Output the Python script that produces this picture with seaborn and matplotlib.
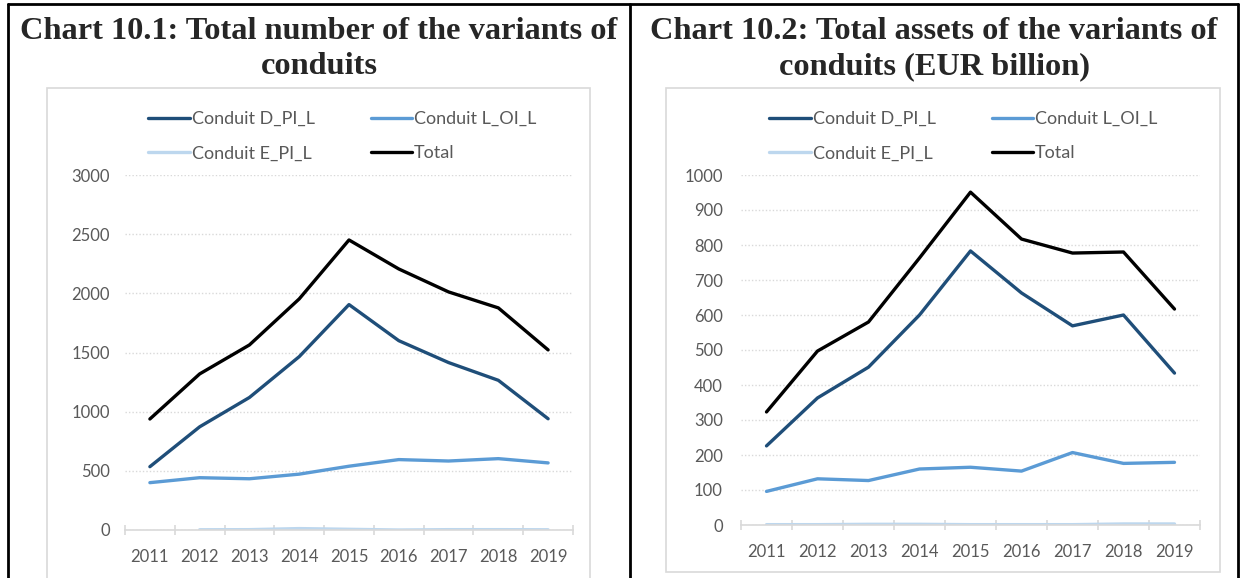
import numpy as np
import pandas as pd
import matplotlib
matplotlib.use("Agg")
import matplotlib.pyplot as plt
from matplotlib.patches import Rectangle
from matplotlib.lines import Line2D
import seaborn as sns

# ---------------------------------------------------
# Data
# ---------------------------------------------------
years = ["2011", "2012", "2013", "2014", "2015", "2016", "2017", "2018", "2019"]
series_names = ["Conduit D_PI_L", "Conduit L_OI_L", "Conduit E_PI_L", "Total"]

# Chart 10.1: number of conduits
count_d_pi_l = [535, 872, 1120, 1465, 1905, 1600, 1415, 1265, 940]
count_l_oi_l = [400, 442, 433, 472, 539, 595, 583, 603, 567]
count_e_pi_l = [np.nan, 2, 3, 12, 6, 0, 3, 3, 2]
count_total = [938, 1319, 1564, 1953, 2451, 2206, 2012, 1877, 1522]

# Chart 10.2: total assets (EUR billion)
assets_d_pi_l = [226, 363, 451, 600, 783, 663, 569, 600, 434]
assets_l_oi_l = [96, 132, 127, 160, 165, 154, 207, 176, 179]
assets_e_pi_l = [1, 1, 2, 2, 1, 1, 1, 3, 3]
assets_total = [323, 497, 580, 763, 951, 817, 777, 780, 617]

titles = ["Chart 10.1: Total number of the variants of\nconduits",
          "Chart 10.2: Total assets of the variants of\nconduits (EUR billion)"]

palette = {"Conduit D_PI_L": "#1F4E79", "Conduit L_OI_L": "#5B9BD5",
           "Conduit E_PI_L": "#BDD7EE", "Total": "#000000"}


def to_long(d, l, e, t):
    frames = []
    for name, vals in zip(series_names, [d, l, e, t]):
        frames.append(pd.DataFrame({"year": years, "value": vals, "series": name}))
    return pd.concat(frames, ignore_index=True)


df_count = to_long(count_d_pi_l, count_l_oi_l, count_e_pi_l, count_total)
df_assets = to_long(assets_d_pi_l, assets_l_oi_l, assets_e_pi_l, assets_total)

# ---------------------------------------------------
# Figure
# ---------------------------------------------------
sns.set_theme(style="white")
plt.rcParams["font.family"] = ["Lato", "DejaVu Sans"]

W, H = 1244, 578
fig = plt.figure(figsize=(W / 100, H / 100), dpi=100)


def fx(px):
    return px / W


def fy(py):
    return 1 - py / H


# table borders
for xs, ys in [([8, 1238], [4, 4]), ([8, 8], [4, 578]),
               ([630, 630], [4, 578]), ([1238, 1238], [4, 578])]:
    fig.add_artist(Line2D([fx(x) for x in xs], [fy(y) for y in ys],
                          color="black", lw=2, transform=fig.transFigure))

# light chart frames
for x0, x1, y0, y1 in [(47, 590, 88, 580), (666, 1220, 88, 572)]:
    fig.add_artist(Rectangle((fx(x0), fy(y1)), fx(x1 - x0), (y1 - y0) / H,
                             fill=False, edgecolor="#D9D9D9", lw=1.2,
                             transform=fig.transFigure))

# titles
for cx, title in zip([319, 934], titles):
    fig.text(fx(cx), fy(49), title, ha="center", va="center",
             fontsize=23.3, fontweight="bold", family="Liberation Serif",
             linespacing=1.3)

panels = [
    dict(df=df_count, rect=[125, 573, 175, 530], ymax=3000, step=500,
         leg=(132, 95), pad=11),
    dict(df=df_assets, rect=[741, 1200, 175, 525], ymax=1000, step=100,
         leg=(753, 95), pad=13),
]

for p in panels:
    x0, x1, ytop, ybot = p["rect"]
    ax = fig.add_axes([fx(x0), fy(ybot), fx(x1 - x0), (ybot - ytop) / H])
    sns.lineplot(data=p["df"], x="year", y="value", hue="series",
                 palette=palette, linewidth=2.4, ax=ax, legend=False,
                 sort=False)
    ax.set_xlim(-0.5, len(years) - 0.5)
    ax.set_ylim(0, p["ymax"])
    ax.set_yticks(np.arange(0, p["ymax"] + 1, p["step"]))
    ax.set_xticks(range(len(years)))
    ax.set_xticklabels(years)
    ax.set_xticks(np.arange(-0.5, len(years)), minor=True)
    ax.set_xlabel("")
    ax.set_ylabel("")
    for s in ["top", "right", "left"]:
        ax.spines[s].set_visible(False)
    ax.spines["bottom"].set_color("#D9D9D9")
    ax.spines["bottom"].set_linewidth(1.2)
    ax.grid(axis="y", color="#D9D9D9", linestyle=(0, (1, 1.5)), linewidth=1)
    ax.set_axisbelow(True)
    ax.tick_params(axis="x", which="major", length=0, pad=14,
                   labelsize=12, labelcolor="#595959")
    ax.tick_params(axis="x", which="minor", length=7, width=1.2,
                   direction="inout", color="#D9D9D9", bottom=True)
    ax.tick_params(axis="y", length=0, pad=p["pad"], labelsize=12,
                   labelcolor="#595959")
    ax.patch.set_alpha(0)

    handles = [Line2D([], [], color=palette[n], lw=2.4) for n in series_names]
    order = [0, 2, 1, 3]
    ax.legend([handles[i] for i in order], [series_names[i] for i in order],
              ncol=2, loc="upper left",
              bbox_to_anchor=(fx(p["leg"][0]), fy(p["leg"][1])),
              bbox_transform=fig.transFigure, frameon=False,
              fontsize=13, handlelength=2.3, handletextpad=0.1,
              columnspacing=3.1, labelspacing=1.0,
              labelcolor="#595959")

fig.savefig("out.png", dpi=100)
